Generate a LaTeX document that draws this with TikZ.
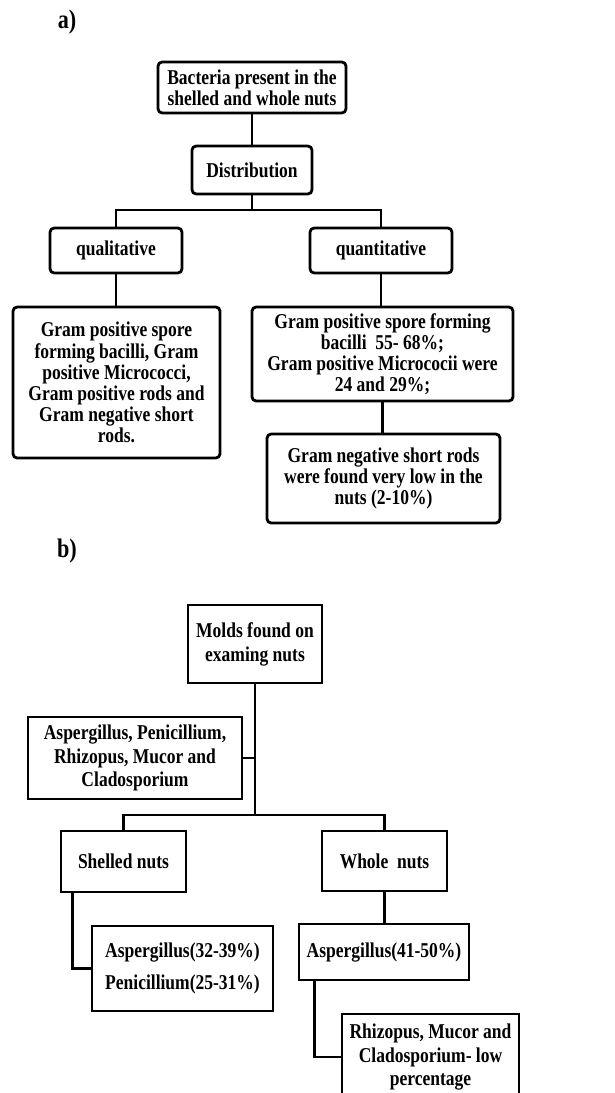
\documentclass[tikz,border=0pt]{standalone}
\usepackage{fontspec}
\setmainfont{Liberation Serif}[FakeStretch=0.83]
\usetikzlibrary{calc}

\begin{document}
\begin{tikzpicture}[x=0.025cm,y=-0.025cm,
    every node/.style={font=\bfseries\fontsize{15}{15}\selectfont,align=center,inner sep=2pt},
    rbox/.style={draw,black,line width=2pt,rounded corners=3pt},
    sbox/.style={draw,black,line width=2pt,font=\bfseries\fontsize{15}{17}\selectfont},
    link/.style={black,line width=2pt},
    panel/.style={font=\bfseries\fontsize{19}{20}\selectfont}]

\path[use as bounding box,clip] (0,0) rectangle (614,1093);

% a)
\node[panel] (pa) at (67,22) {a)};

\node[rbox,minimum width=4.7cm,minimum height=1.275cm] (bact) at (252,87.5) {Bacteria present in the\\shelled and whole nuts};
\node[rbox,minimum width=3cm,minimum height=1.2cm] (dist) at (252,170) {Distribution};
\node[rbox,minimum width=3.3cm,minimum height=1.125cm] (qual) at (116,250.5) {qualitative};
\node[rbox,minimum width=3.55cm,minimum height=1.125cm] (quant) at (381,250.5) {quantitative};
\node[rbox,minimum width=5.175cm,minimum height=3.775cm] (gpos) at (116.5,382.5) {Gram positive spore\\forming bacilli, Gram\\positive Micrococci,\\Gram positive rods and\\Gram negative short\\rods.};
\node[rbox,minimum width=6.525cm,minimum height=2.35cm] (spore) at (382.5,354) {Gram positive spore forming\\bacilli\ \ 55- 68\%;\\Gram positive Micrococii were\\24 and 29\%;};
\node[rbox,minimum width=5.825cm,minimum height=2.225cm] (gneg) at (383.5,478.5) {Gram negative short rods\\were found very low in the\\nuts (2-10\%)};

\coordinate (dj) at (252,210);

\draw[link] (bact)--(dist);
\draw[link] (dist)--(dj);
\draw[link] (qual.north) |- (dj) -| (quant.north);
\draw[link] (qual.south)--(qual.south |- gpos.north);
\draw[link] (quant.south)--(quant.south |- spore.north);
\draw[link] (spore.south)--(spore.south |- gneg.north);

% b)
\node[panel] (pb) at (67,551) {b)};

\node[sbox,minimum width=3.35cm,minimum height=1.95cm] (molds) at (255,644) {Molds found on\\examing nuts};
\node[sbox,minimum width=5.35cm,minimum height=2.05cm] (genera) at (135,758) {Aspergillus, Penicillium,\\Rhizopus, Mucor and\\Cladosporium};
\node[sbox,minimum width=3.125cm,minimum height=1.525cm] (shelled) at (123.5,861.5) {Shelled nuts};
\node[sbox,minimum width=3.125cm,minimum height=1.5cm] (whole) at (384.5,861) {Whole\ \ nuts};
\node[sbox,minimum width=4.525cm,minimum height=2.125cm,align=left] (asp1) at (182.5,968.5) {Aspergillus(32-39\%)\\[6pt]Penicillium(25-31\%)};
\node[sbox,minimum width=4.25cm,minimum height=1.4cm] (asp2) at (384,952) {Aspergillus(41-50\%)};
\node[sbox,minimum width=4.425cm,minimum height=2.15cm] (rhiz) at (430.5,1057) {Rhizopus, Mucor and\\Cladosporium- low\\percentage};

\coordinate (mj) at (255,815);

\draw[link] (molds.south)--(mj);
\draw[link] (genera.east)--(molds.south |- genera.east);
\draw[link] (shelled.north) |- (mj) -| (whole.north);
\draw[link] ([xshift=0.325cm]shelled.south west) |- (asp1.west);
\draw[link] (whole.south)--(whole.south |- asp2.north);
\draw[link] ([xshift=0.425cm]asp2.south west) |- (rhiz.west);

\end{tikzpicture}
\end{document}
